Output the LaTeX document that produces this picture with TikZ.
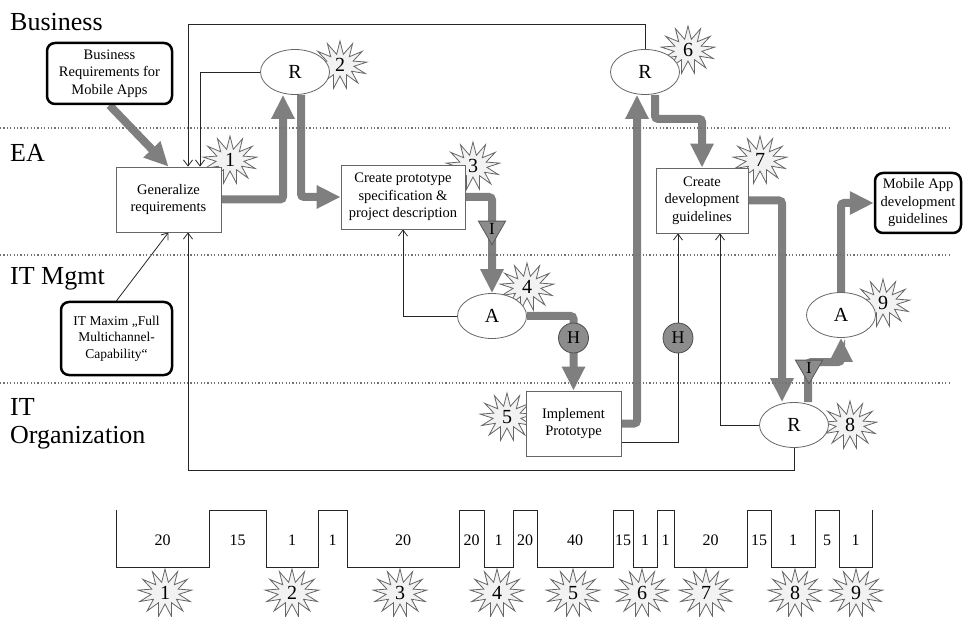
\documentclass[tikz,border=0pt]{standalone}
\usepackage{fontspec}
\setmainfont{Liberation Serif}
\usetikzlibrary{arrows.meta,shapes.geometric,shapes.symbols,calc}
\pgfdeclarelayer{stars}
\pgfdeclarelayer{lines}
\pgfsetlayers{stars,lines,main}
\definecolor{flowgray}{HTML}{7F7F7F}
\definecolor{burstfill}{HTML}{F2F2F2}
\definecolor{markgray}{HTML}{8C8C8C}
\tikzset{
  lane/.style={draw=black!55, line width=1.1pt, dash pattern=on 1.1pt off 2.3pt},
  lanelabel/.style={anchor=west, font=\fontsize{26}{29}\selectfont, inner sep=0pt},
  task/.style={draw=black!60, line width=0.8pt, fill=white, align=center,
    font=\fontsize{14.5}{17.5}\selectfont, inner sep=2pt},
  extbox/.style={draw=black, line width=2.5pt, rounded corners=8pt, fill=white,
    align=center, font=\fontsize{14.5}{17.5}\selectfont, inner sep=2pt},
  evt/.style={ellipse, draw=black!60, line width=0.8pt, fill=white,
    minimum width=69pt, minimum height=45pt, inner sep=0pt,
    font=\fontsize{20}{24}\selectfont},
  burst/.style={starburst, starburst points=13, starburst point height=13pt,
    random starburst=0, draw=black!60, fill=burstfill, line width=0.8pt,
    minimum width=54pt, minimum height=48pt, inner sep=0pt,
    font=\fontsize{20}{22}\selectfont},
  hmark/.style={circle, draw=black!70, fill=markgray, minimum size=30pt,
    inner sep=0pt, line width=0.8pt, font=\fontsize{18}{20}\selectfont},
  imark/.style={regular polygon, regular polygon sides=3, shape border rotate=180,
    draw=black!65, fill=markgray, minimum size=31pt, inner sep=0pt,
    line width=0.8pt, font=\fontsize{17}{20}\selectfont},
  flow/.style={draw=flowgray, line width=8pt, rounded corners=3pt,
    -{Triangle[width=22pt,length=24pt]}},
  ctrl/.style={draw=black!85, line width=0.8pt, -{Straight Barb[length=6pt,width=9pt]}},
  tline/.style={draw=black!85, line width=1pt},
  tnum/.style={font=\fontsize{16}{18}\selectfont, inner sep=0pt},
}
\begin{document}
\begin{tikzpicture}[x=1pt,y=-1pt]
\useasboundingbox (0,0) rectangle (963,617);

% swim lanes
\draw[lane] (0,128) -- (950,128);
\draw[lane] (0,255) -- (950,255);
\draw[lane] (0,383) -- (950,383);
\node[lanelabel] (lbiz) at (10,22) {Business};
\node[lanelabel] (lea) at (10,153) {EA};
\node[lanelabel] (lit) at (10,279) {IT Mgmt};
\node[lanelabel] (lorg1) at (10,407) {IT};
\node[lanelabel] (lorg2) at (10,438) {Organization};

% boxes
\node[extbox, minimum width=125pt, minimum height=61pt] (bizreq) at (109.5,73.5) {Business\\Requirements for\\Mobile Apps};
\node[task, minimum width=105pt, minimum height=65pt] (gen) at (168.5,199.5) {Generalize\\requirements};
\node[extbox, minimum width=111pt, minimum height=73pt, font=\fontsize{13.5}{16.5}\selectfont] (itmax) at (116.5,338.5) {IT Maxim „Full\\Multichannel-\\Capability“};
\node[task, minimum width=124pt, minimum height=64pt] (proto) at (403,197) {Create prototype\\specification \&\\project description};
\node[task, minimum width=95pt, minimum height=65pt] (impl) at (573.5,423.5) {Implement\\Prototype};
\node[task, minimum width=92pt, minimum height=65pt] (devg) at (702,200.5) {Create\\development\\guidelines};
\node[extbox, minimum width=86pt, minimum height=60pt] (mobile) at (918,203) {Mobile App\\development\\guidelines};

% events
\node[evt] (r2) at (295,72) {R};
\node[evt] (r6) at (645,72) {R};
\node[evt] (a4) at (492,316) {A};
\node[evt] (r8) at (794,425) {R};
\node[evt] (a9) at (841,315) {A};

% stars
\begin{pgfonlayer}{stars}
\node[burst] (s1) at (230,160) {1};
\node[burst] (s2) at (340,65) {2};
\node[burst] (s3) at (473,166) {3};
\node[burst] (s4) at (527,287) {4};
\node[burst] (s5) at (507,417) {5};
\node[burst] (s6) at (688,50) {6};
\node[burst] (s7) at (760,160) {7};
\node[burst] (s8) at (850,425) {8};
\node[burst] (s9) at (883,303) {9};
\end{pgfonlayer}

% flows
\begin{pgfonlayer}{lines}
\draw[flow] (bizreq.south) -- (gen.north);
\draw[flow] (gen.east) -| ([xshift=-12pt]r2.south);
\draw[flow] ([xshift=6pt]r2.south) |- (proto.west);
\draw[flow] (proto.east) -| (a4.north);
\draw[flow] (a4.east) -| (impl.north);
\draw[flow] (impl.east) -| ([xshift=-8pt]r6.south);
\draw[flow] ([xshift=10pt]r6.south) -- ++(0,24) -| (devg.north);
\draw[flow] (devg.east) -| ([xshift=-12pt]r8.north);
\draw[flow] ([xshift=14pt]r8.north) -- ++(0,-40) -| (a9.south);
\draw[flow] (a9.north) |- (mobile.west);

% control lines
\draw[ctrl] (r2.west) -| ([xshift=31.5pt]gen.north);
\draw[ctrl] (r6.north) -- ++(0,-24.5) -| ([xshift=19.5pt]gen.north);
\draw[ctrl] (r8.south) -- ++(0,22.5) -| ([xshift=19.5pt]gen.south);
\draw[ctrl] (itmax.north) -- (gen.south);
\draw[ctrl] (a4.west) -| (proto.south);
\draw[ctrl] ([yshift=-18.5pt]impl.east) -| ([xshift=-24pt]devg.south);
\draw[ctrl] (r8.west) -| ([xshift=18pt]devg.south);
\end{pgfonlayer}

% markers
\node[imark] (i1) at (492,229) {I};
\node[hmark] (h1) at (573.5,338) {H};
\node[hmark] (h2) at (678,338) {H};
\node[imark] (i2) at (809,368) {I};

% timeline
\draw[tline] (116,510) -- (116,567) -- (209,567) -- (209,510) -- (266,510) -- (266,567)
  -- (318,567) -- (318,510) -- (347,510) -- (347,567) -- (459,567) -- (459,510)
  -- (484,510) -- (484,567) -- (513,567) -- (513,510) -- (537,510) -- (537,567)
  -- (613,567) -- (613,510) -- (633,510) -- (633,567) -- (657,567) -- (657,510)
  -- (674,510) -- (674,567) -- (747,567) -- (747,510) -- (771,510) -- (771,567)
  -- (815,567) -- (815,510) -- (839,510) -- (839,567) -- (872,567) -- (872,510);
\foreach \x/\v [count=\k] in {162.5/20,237.5/15,292/1,332.5/1,403/20,471.5/20,498.5/1,525/20,575/40,623/15,645/1,665.5/1,710.5/20,759/15,793/1,827/5,855.5/1}
  \node[tnum] (t\k) at (\x,540) {\v};
\begin{pgfonlayer}{stars}
\foreach \x/\v in {165/1,292/2,400/3,497/4,573/5,642/6,706/7,795/8,856/9}
  \node[burst] (ts\v) at (\x,593) {\v};
\end{pgfonlayer}
\end{tikzpicture}
\end{document}
